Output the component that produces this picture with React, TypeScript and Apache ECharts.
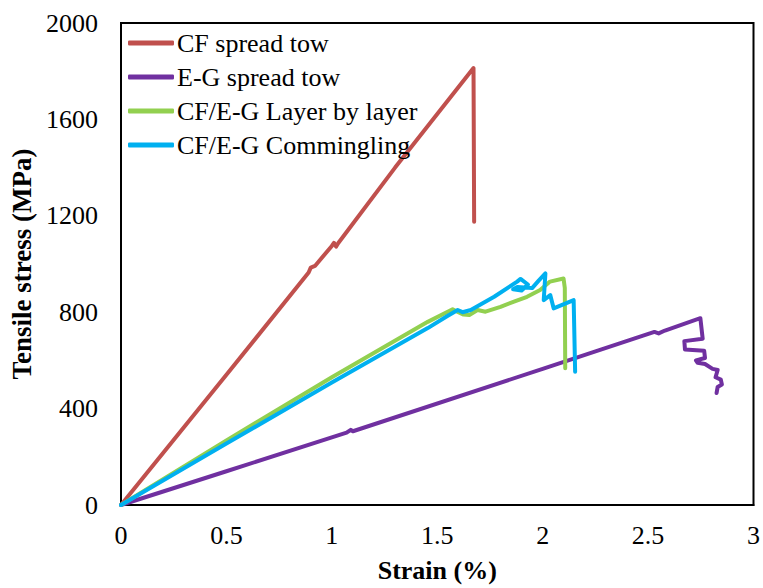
import React, { useEffect, useRef } from "react";
import * as echarts from "echarts";

const seriesNames = ["CF spread tow", "E-G spread tow", "CF/E-G Layer by layer", "CF/E-G Commingling"];
const seriesColors = ["#C0504D", "#7030A0", "#92D050", "#00B0F0"];

const cfStrain = [0, 0.5, 0.89, 0.9, 0.92, 1.0, 1.01, 1.02, 1.03, 1.3, 1.672, 1.675];
const cfStress = [0, 540, 965, 985, 992, 1075, 1088, 1072, 1086, 1400, 1813, 1175];

const egStrain = [0, 0.5, 1.07, 1.09, 1.1, 2.0, 2.53, 2.55, 2.58, 2.748, 2.759, 2.672, 2.675, 2.766, 2.77, 2.727, 2.735, 2.77, 2.806, 2.83, 2.82, 2.845, 2.85, 2.83, 2.825];
const egStress = [0, 140, 300, 312, 306, 565, 718, 712, 724, 775, 690, 680, 645, 640, 610, 600, 590, 585, 565, 560, 530, 520, 500, 490, 465];

const lblStrain = [0, 0.5, 1.0, 1.455, 1.573, 1.6, 1.625, 1.652, 1.691, 1.729, 1.8, 1.864, 1.926, 1.988, 2.035, 2.099, 2.105, 2.107];
const lblStress = [0, 268, 530, 760, 812, 800, 790, 788, 809, 802, 822, 844, 864, 892, 927, 940, 900, 567];

const comStrain = [0, 0.5, 1.0, 1.455, 1.55, 1.597, 1.62, 1.659, 1.77, 1.879, 1.895, 1.93, 1.9, 1.86, 1.88, 1.95, 1.98, 2.013, 2.005, 2.036, 2.052, 2.147, 2.154];
const comStress = [0, 255, 508, 734, 785, 809, 800, 809, 864, 927, 938, 915, 890, 895, 905, 900, 930, 961, 850, 871, 816, 850, 553];

const xTicks = { min: 0, max: 3, interval: 0.5 };
const yTicks = { min: 0, max: 2000, interval: 400 };

const zip = (xs: number[], ys: number[]) => xs.map((x, i) => [x, ys[i]]);

export default function App() {
  const ref = useRef<HTMLDivElement>(null);
  useEffect(() => {
    document.body.style.margin = "0";
    const chart = echarts.init(ref.current!, null, { renderer: "svg" });
    const font = "Liberation Serif";
    const datasets = [zip(cfStrain, cfStress), zip(egStrain, egStress), zip(lblStrain, lblStress), zip(comStrain, comStress)];
    chart.setOption({
      animation: false,
      backgroundColor: "#ffffff",
      grid: { left: 121, right: 5, top: 23, bottom: 83, show: true, borderColor: "#000", borderWidth: 2, containLabel: false },
      legend: {
        orient: "vertical",
        left: 123,
        top: 25,
        itemWidth: 46,
        itemHeight: 5,
        itemGap: 8,
        icon: "roundRect",
        data: seriesNames,
        textStyle: { fontFamily: font, fontSize: 26, color: "#000", lineHeight: 26, padding: [0, 0, 0, -2] },
      },
      xAxis: {
        type: "value",
        min: xTicks.min,
        max: xTicks.max,
        interval: xTicks.interval,
        name: "Strain (%)",
        nameLocation: "middle",
        nameGap: 52,
        nameTextStyle: { fontFamily: font, fontSize: 26, fontWeight: "bold", color: "#000" },
        axisLine: { show: true, lineStyle: { color: "#000", width: 2 } },
        axisTick: { show: false },
        splitLine: { show: false },
        axisLabel: { fontFamily: font, fontSize: 26, color: "#000", margin: 17, formatter: (v: number) => String(v) },
      },
      yAxis: {
        type: "value",
        min: yTicks.min,
        max: yTicks.max,
        interval: yTicks.interval,
        name: "Tensile stress (MPa)",
        nameLocation: "middle",
        nameGap: 74,
        nameTextStyle: { fontFamily: font, fontSize: 27, fontWeight: "bold", color: "#000" },
        axisLine: { show: true, lineStyle: { color: "#000", width: 2 } },
        axisTick: { show: false },
        splitLine: { show: false },
        axisLabel: { fontFamily: font, fontSize: 26, color: "#000", margin: 23, formatter: (v: number) => String(v) },
      },
      series: seriesNames.map((name, i) => ({
        name,
        type: "line",
        data: datasets[i],
        showSymbol: false,
        symbol: "none",
        color: seriesColors[i],
        lineStyle: { width: 4, color: seriesColors[i], cap: "round", join: "round" },
      })),
    });
    return () => chart.dispose();
  }, []);
  return <div ref={ref} style={{ position: "absolute", left: 0, top: 0, width: 763, height: 588 }} />;
}
